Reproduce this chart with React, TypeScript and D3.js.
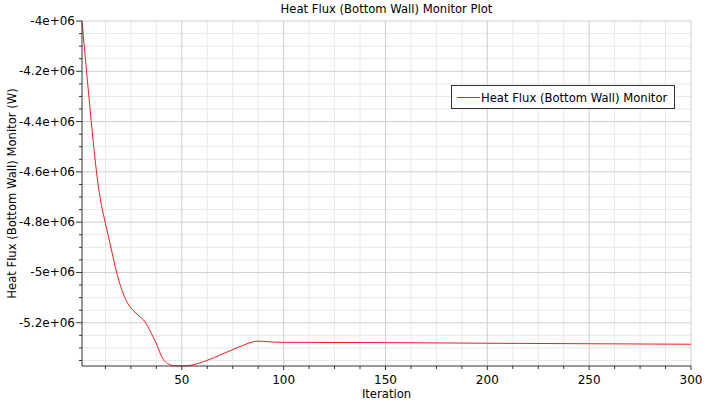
import React from "react";
import * as d3 from "d3";

const iterations = [1, 2, 3, 4, 5, 6, 7, 8, 9, 10, 11, 12, 13, 14, 16, 18, 20, 22, 24, 26, 28, 30, 32, 34, 36, 38, 40, 42, 44, 46, 50, 54, 58, 62, 66, 70, 75, 80, 84, 87, 90, 95, 100, 150, 200, 250, 300];
const heatFlux = [-4.0, -4.09, -4.18, -4.267, -4.354, -4.438, -4.518, -4.592, -4.655, -4.707, -4.75, -4.787, -4.823, -4.858, -4.93, -5.0, -5.056, -5.1, -5.13, -5.15, -5.165, -5.18, -5.197, -5.225, -5.258, -5.292, -5.333, -5.356, -5.366, -5.371, -5.372, -5.370, -5.362, -5.351, -5.338, -5.324, -5.307, -5.29, -5.278, -5.273, -5.274, -5.277, -5.278, -5.279, -5.2815, -5.2835, -5.2855].map((v) => v * 1e6);

const xMajorTicks = [50, 100, 150, 200, 250, 300];
const xMinorTicks = [12.5, 25, 37.5, 62.5, 75, 87.5, 112.5, 125, 137.5, 162.5, 175, 187.5, 212.5, 225, 237.5, 262.5, 275, 287.5];
const yMajorTicks = [-4.0e6, -4.2e6, -4.4e6, -4.6e6, -4.8e6, -5.0e6, -5.2e6];
const yTickLabels = ["-4e+06", "-4.2e+06", "-4.4e+06", "-4.6e+06", "-4.8e+06", "-5e+06", "-5.2e+06"];
const yMinorTicks = [-4.05e6, -4.1e6, -4.15e6, -4.25e6, -4.3e6, -4.35e6, -4.45e6, -4.5e6, -4.55e6, -4.65e6, -4.7e6, -4.75e6, -4.85e6, -4.9e6, -4.95e6, -5.05e6, -5.1e6, -5.15e6, -5.25e6, -5.3e6, -5.35e6];

const title = "Heat Flux (Bottom Wall) Monitor Plot";
const xTitle = "Iteration";
const yTitle = "Heat Flux (Bottom Wall) Monitor (W)";
const seriesName = "Heat Flux (Bottom Wall) Monitor";

export default function App() {
  const W = 710, H = 404;
  const L = 82, R = 691, T = 21, B = 366;
  const x = d3.scaleLinear().domain([1, 300]).range([L, R]);
  const y = d3.scaleLinear().domain([-5.372e6, -4.0e6]).range([B, T]);
  const pts: [number, number][] = iterations.map((it, i) => [it, heatFlux[i]]);
  const line = d3.line<[number, number]>().x((d) => x(d[0])).y((d) => y(d[1])).curve(d3.curveMonotoneX);
  const font = "DejaVu Sans, sans-serif";
  const fs = 11.6;
  const fsTick = 12;
  return (
    <svg width={W} height={H} style={{ position: "absolute", left: 0, top: 0, background: "#fff" }} fontFamily={font}>
      <rect x={0} y={0} width={W} height={H} fill="#fff" />
      {xMinorTicks.map((t) => (
        <line key={"gxm" + t} x1={x(t)} x2={x(t)} y1={T} y2={B} stroke="#e8e8e8" />
      ))}
      {yMinorTicks.map((t) => (
        <line key={"gym" + t} x1={L} x2={R} y1={y(t)} y2={y(t)} stroke="#e8e8e8" />
      ))}
      {xMajorTicks.map((t) => (
        <line key={"gx" + t} x1={x(t)} x2={x(t)} y1={T} y2={B} stroke="#cfcfcf" />
      ))}
      {yMajorTicks.map((t) => (
        <line key={"gy" + t} x1={L} x2={R} y1={y(t)} y2={y(t)} stroke="#cfcfcf" />
      ))}
      <path d={line(pts) || ""} fill="none" stroke="#ff1a1a" strokeWidth={1} />
      <line x1={L} x2={L} y1={T} y2={B} stroke="#333" />
      <line x1={L} x2={R} y1={B} y2={B} stroke="#333" />
      {xMajorTicks.map((t) => (
        <line key={"tx" + t} x1={x(t)} x2={x(t)} y1={B} y2={B + 4} stroke="#333" />
      ))}
      {xMinorTicks.map((t) => (
        <line key={"txm" + t} x1={x(t)} x2={x(t)} y1={B} y2={B + 3} stroke="#333" />
      ))}
      {yMajorTicks.map((t) => (
        <line key={"ty" + t} x1={L - 6} x2={L} y1={y(t)} y2={y(t)} stroke="#333" />
      ))}
      {yMinorTicks.map((t) => (
        <line key={"tym" + t} x1={L - 3} x2={L} y1={y(t)} y2={y(t)} stroke="#333" />
      ))}
      {xMajorTicks.map((t) => (
        <text key={"lx" + t} x={x(t)} y={B + 18} fontSize={fsTick} textAnchor="middle" fill="#000">{t}</text>
      ))}
      {yMajorTicks.map((t, i) => (
        <text key={"ly" + t} x={L - 7} y={y(t) + 4} fontSize={fsTick} textAnchor="end" fill="#000">{yTickLabels[i]}</text>
      ))}
      <text x={386.5} y={13} fontSize={fs} textAnchor="middle" fill="#000">{title}</text>
      <text x={(L + R) / 2} y={398} fontSize={fs} textAnchor="middle" fill="#000">{xTitle}</text>
      <text transform={`translate(16,${(T + B) / 2}) rotate(-90)`} fontSize={fs} textAnchor="middle" fill="#000">{yTitle}</text>
      <rect x={451.5} y={85.5} width={223} height={23} fill="#fff" stroke="#333" />
      <line x1={457} x2={480} y1={97.5} y2={97.5} stroke="#ff1a1a" />
      <text x={481} y={101.5} fontSize={fs} fill="#000">{seriesName}</text>
    </svg>
  );
}
